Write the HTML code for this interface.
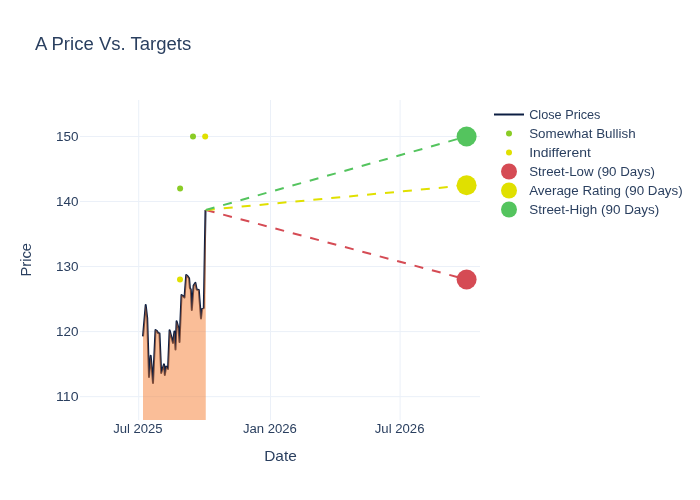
<!DOCTYPE html><html><head><meta charset="utf-8"><style>html,body{margin:0;padding:0;background:#fff;overflow:hidden}svg{display:block;will-change:transform}</style></head><body><svg width="700" height="500" viewBox="0 0 700 500">
<rect width="700" height="500" fill="#fff"/>
<line x1="80" x2="480" y1="136.5" y2="136.5" stroke="#ebf0f8" stroke-width="1"/>
<line x1="80" x2="480" y1="201.5" y2="201.5" stroke="#ebf0f8" stroke-width="1"/>
<line x1="80" x2="480" y1="266.55" y2="266.55" stroke="#ebf0f8" stroke-width="1"/>
<line x1="80" x2="480" y1="331.6" y2="331.6" stroke="#ebf0f8" stroke-width="1"/>
<line x1="80" x2="480" y1="396.65" y2="396.65" stroke="#ebf0f8" stroke-width="1"/>
<line x1="138.7" x2="138.7" y1="100" y2="420" stroke="#ebf0f8" stroke-width="1"/>
<line x1="270.5" x2="270.5" y1="100" y2="420" stroke="#ebf0f8" stroke-width="1"/>
<line x1="400.1" x2="400.1" y1="100" y2="420" stroke="#ebf0f8" stroke-width="1"/>
<defs><clipPath id="pc"><rect x="80" y="100" width="400" height="320"/></clipPath></defs>
<g clip-path="url(#pc)">
<path d="M143,336.3 L145.7,305 L147.2,318 L149,377 L150.7,355.8 L153,383 L155.5,330 L157,331 L158,333 L159.5,333.5 L161.2,373 L164,364.4 L164.8,375 L166.1,366.6 L168,369 L169.6,330.3 L173,343 L174.4,331.6 L175.5,349.5 L176.6,321.3 L178.5,328 L179.5,342 L181.5,295 L183,296 L184.5,297.5 L186.2,275 L187.5,276 L189.1,278.4 L189.9,288 L190.8,289.5 L191.8,309.9 L193.6,285.6 L195.4,282.9 L196.7,289.6 L198.8,290 L201,318.5 L202,309 L203.8,308 L205.5,210" fill="none" stroke="#0c1e42" stroke-width="2" stroke-linejoin="round"/>
<path d="M143,420 L143,336.3 L145.7,305 L147.2,318 L149,377 L150.7,355.8 L153,383 L155.5,330 L157,331 L158,333 L159.5,333.5 L161.2,373 L164,364.4 L164.8,375 L166.1,366.6 L168,369 L169.6,330.3 L173,343 L174.4,331.6 L175.5,349.5 L176.6,321.3 L178.5,328 L179.5,342 L181.5,295 L183,296 L184.5,297.5 L186.2,275 L187.5,276 L189.1,278.4 L189.9,288 L190.8,289.5 L191.8,309.9 L193.6,285.6 L195.4,282.9 L196.7,289.6 L198.8,290 L201,318.5 L202,309 L203.8,308 L205.5,210 L205.75,210 L205.75,420 Z" fill="rgba(245,125,49,0.5)" stroke="none"/>
<line x1="205.8" y1="210" x2="466.6" y2="279.5" stroke="#d54b54" stroke-width="2" stroke-dasharray="9,9"/>
<line x1="205.8" y1="210" x2="466.6" y2="185.25" stroke="#e0e000" stroke-width="2" stroke-dasharray="9,9"/>
<line x1="205.8" y1="210" x2="466.6" y2="136.45" stroke="#54c45e" stroke-width="2" stroke-dasharray="9,9"/>
<circle cx="193" cy="136.5" r="3" fill="#8acc26"/>
<circle cx="180.1" cy="188.5" r="3" fill="#8acc26"/>
<circle cx="205.2" cy="136.5" r="3" fill="#e0e000"/>
<circle cx="180" cy="279.5" r="3" fill="#e0e000"/>
</g>
<circle cx="466.6" cy="279.5" r="10" fill="#d54b54"/>
<circle cx="466.6" cy="185.25" r="10" fill="#e0e000"/>
<circle cx="466.6" cy="136.45" r="10" fill="#54c45e"/>
<text x="35" y="50.4" font-family="Liberation Sans, sans-serif" font-size="17.5" fill="#2a3f5f" textLength="156.3" lengthAdjust="spacingAndGlyphs">A Price Vs. Targets</text>
<text x="78.5" y="140.79999999999998" font-family="Liberation Sans, sans-serif" font-size="12.5" fill="#2a3f5f" text-anchor="end" textLength="22.5" lengthAdjust="spacingAndGlyphs">150</text>
<text x="78.5" y="205.79999999999998" font-family="Liberation Sans, sans-serif" font-size="12.5" fill="#2a3f5f" text-anchor="end" textLength="22.5" lengthAdjust="spacingAndGlyphs">140</text>
<text x="78.5" y="270.8" font-family="Liberation Sans, sans-serif" font-size="12.5" fill="#2a3f5f" text-anchor="end" textLength="22.5" lengthAdjust="spacingAndGlyphs">130</text>
<text x="78.5" y="335.90000000000003" font-family="Liberation Sans, sans-serif" font-size="12.5" fill="#2a3f5f" text-anchor="end" textLength="22.5" lengthAdjust="spacingAndGlyphs">120</text>
<text x="78.5" y="400.90000000000003" font-family="Liberation Sans, sans-serif" font-size="12.5" fill="#2a3f5f" text-anchor="end" textLength="22.5" lengthAdjust="spacingAndGlyphs">110</text>
<text x="137.9" y="432.8" font-family="Liberation Sans, sans-serif" font-size="12.5" fill="#2a3f5f" text-anchor="middle" textLength="49.5" lengthAdjust="spacingAndGlyphs">Jul 2025</text>
<text x="269.9" y="432.8" font-family="Liberation Sans, sans-serif" font-size="12.5" fill="#2a3f5f" text-anchor="middle" textLength="54" lengthAdjust="spacingAndGlyphs">Jan 2026</text>
<text x="399.6" y="432.8" font-family="Liberation Sans, sans-serif" font-size="12.5" fill="#2a3f5f" text-anchor="middle" textLength="49.7" lengthAdjust="spacingAndGlyphs">Jul 2026</text>
<text x="280.5" y="460.9" font-family="Liberation Sans, sans-serif" font-size="14.5" fill="#2a3f5f" text-anchor="middle" textLength="32.6" lengthAdjust="spacingAndGlyphs">Date</text>
<text transform="translate(30.8,259.7) rotate(-90)" x="0" y="0" font-family="Liberation Sans, sans-serif" font-size="14.5" fill="#2a3f5f" text-anchor="middle" textLength="33.5" lengthAdjust="spacingAndGlyphs">Price</text>
<line x1="494" x2="524" y1="114.5" y2="114.5" stroke="#0c1e42" stroke-width="2"/>
<circle cx="509" cy="133.5" r="3" fill="#8acc26"/>
<circle cx="509" cy="152.5" r="3" fill="#e0e000"/>
<circle cx="509" cy="171.5" r="8" fill="#d54b54"/>
<circle cx="509" cy="190.5" r="8" fill="#e0e000"/>
<circle cx="509" cy="209.5" r="8" fill="#54c45e"/>
<text x="529.2" y="118.9" font-family="Liberation Sans, sans-serif" font-size="12.5" fill="#2a3f5f" textLength="71.3" lengthAdjust="spacingAndGlyphs">Close Prices</text>
<text x="529.2" y="137.9" font-family="Liberation Sans, sans-serif" font-size="12.5" fill="#2a3f5f" textLength="106.4" lengthAdjust="spacingAndGlyphs">Somewhat Bullish</text>
<text x="529.2" y="156.9" font-family="Liberation Sans, sans-serif" font-size="12.5" fill="#2a3f5f" textLength="61.6" lengthAdjust="spacingAndGlyphs">Indifferent</text>
<text x="529.2" y="175.9" font-family="Liberation Sans, sans-serif" font-size="12.5" fill="#2a3f5f" textLength="125.8" lengthAdjust="spacingAndGlyphs">Street-Low (90 Days)</text>
<text x="529.2" y="194.9" font-family="Liberation Sans, sans-serif" font-size="12.5" fill="#2a3f5f" textLength="153.5" lengthAdjust="spacingAndGlyphs">Average Rating (90 Days)</text>
<text x="529.2" y="213.9" font-family="Liberation Sans, sans-serif" font-size="12.5" fill="#2a3f5f" textLength="130.1" lengthAdjust="spacingAndGlyphs">Street-High (90 Days)</text>
</svg></body></html>
